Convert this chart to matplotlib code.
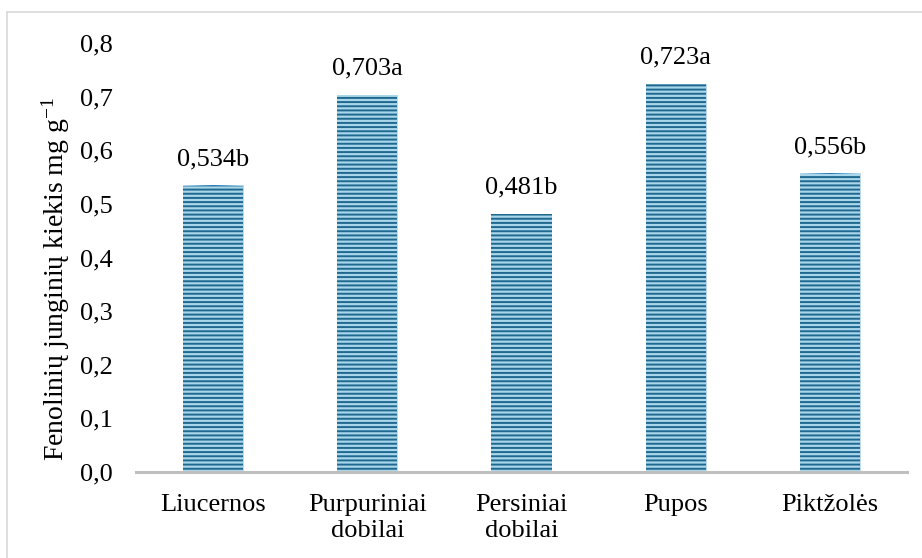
import matplotlib.pyplot as plt
import matplotlib.lines as mlines
import numpy as np

plt.rcParams['font.family'] = ['Liberation Serif', 'DejaVu Serif']
plt.rcParams['mathtext.default'] = 'regular'
plt.rcParams['hatch.linewidth'] = 1.4

categories = ["Liucernos", "Purpuriniai\ndobilai", "Persiniai\ndobilai", "Pupos", "Piktžolės"]
values = [0.534, 0.703, 0.481, 0.723, 0.556]
letters = ["b", "a", "b", "a", "b"]
yticks = [0.0, 0.1, 0.2, 0.3, 0.4, 0.5, 0.6, 0.7, 0.8]

fig = plt.figure(figsize=(9.22, 5.58), dpi=100)
ax = fig.add_axes([0.1475, 0.1541, 0.8362, 0.7688])

x = np.arange(len(categories))
bars = ax.bar(x, values, width=0.39, color="#a9d6ea", edgecolor="#1f6990",
              linewidth=0, hatch="----", zorder=2)

# light edges, darker middle across each bar
grad = np.abs(np.linspace(-1, 1, 64))[None, :]
for b in bars:
    ax.imshow(grad, cmap="Blues_r", vmin=-0.6, vmax=1.6, aspect="auto",
              extent=[b.get_x(), b.get_x() + b.get_width(), 0, b.get_height()],
              zorder=1.5)

for xi, v, l in zip(x, values, letters):
    ax.annotate(f"{v:.3f}".replace(".", ",") + l, (xi, v), xytext=(0, 19),
                textcoords="offset points", ha="center", va="center", fontsize=19)

ax.set_xlim(-0.5, len(categories) - 0.5)
ax.set_ylim(0, 0.8)
ax.set_yticks(yticks)
ax.set_yticklabels([f"{t:.1f}".replace(".", ",") for t in yticks], fontsize=19)
ax.set_xticks(x)
ax.set_xticklabels(categories, fontsize=19, linespacing=1.25)
ax.tick_params(axis="y", length=0, pad=17)
ax.tick_params(axis="x", length=0, pad=16)
for s in ["top", "right", "left"]:
    ax.spines[s].set_visible(False)
ax.spines["bottom"].set_color("#bfbfbf")
ax.spines["bottom"].set_linewidth(2.2)
ax.spines["bottom"].set_zorder(3)

fig.text(0.060, 0.500, "Fenolinių junginių kiekis mg g$^{-1}$", rotation=90,
         ha="center", va="center", fontsize=20)

# frame around the chart area
fig.add_artist(mlines.Line2D([7 / 922, 1], [1 - 12 / 558] * 2, color="#d9d9d9",
                             lw=1.2, transform=fig.transFigure))
fig.add_artist(mlines.Line2D([7 / 922] * 2, [0, 1 - 12 / 558], color="#d9d9d9",
                             lw=1.2, transform=fig.transFigure))

fig.savefig("out.png", dpi=100)
